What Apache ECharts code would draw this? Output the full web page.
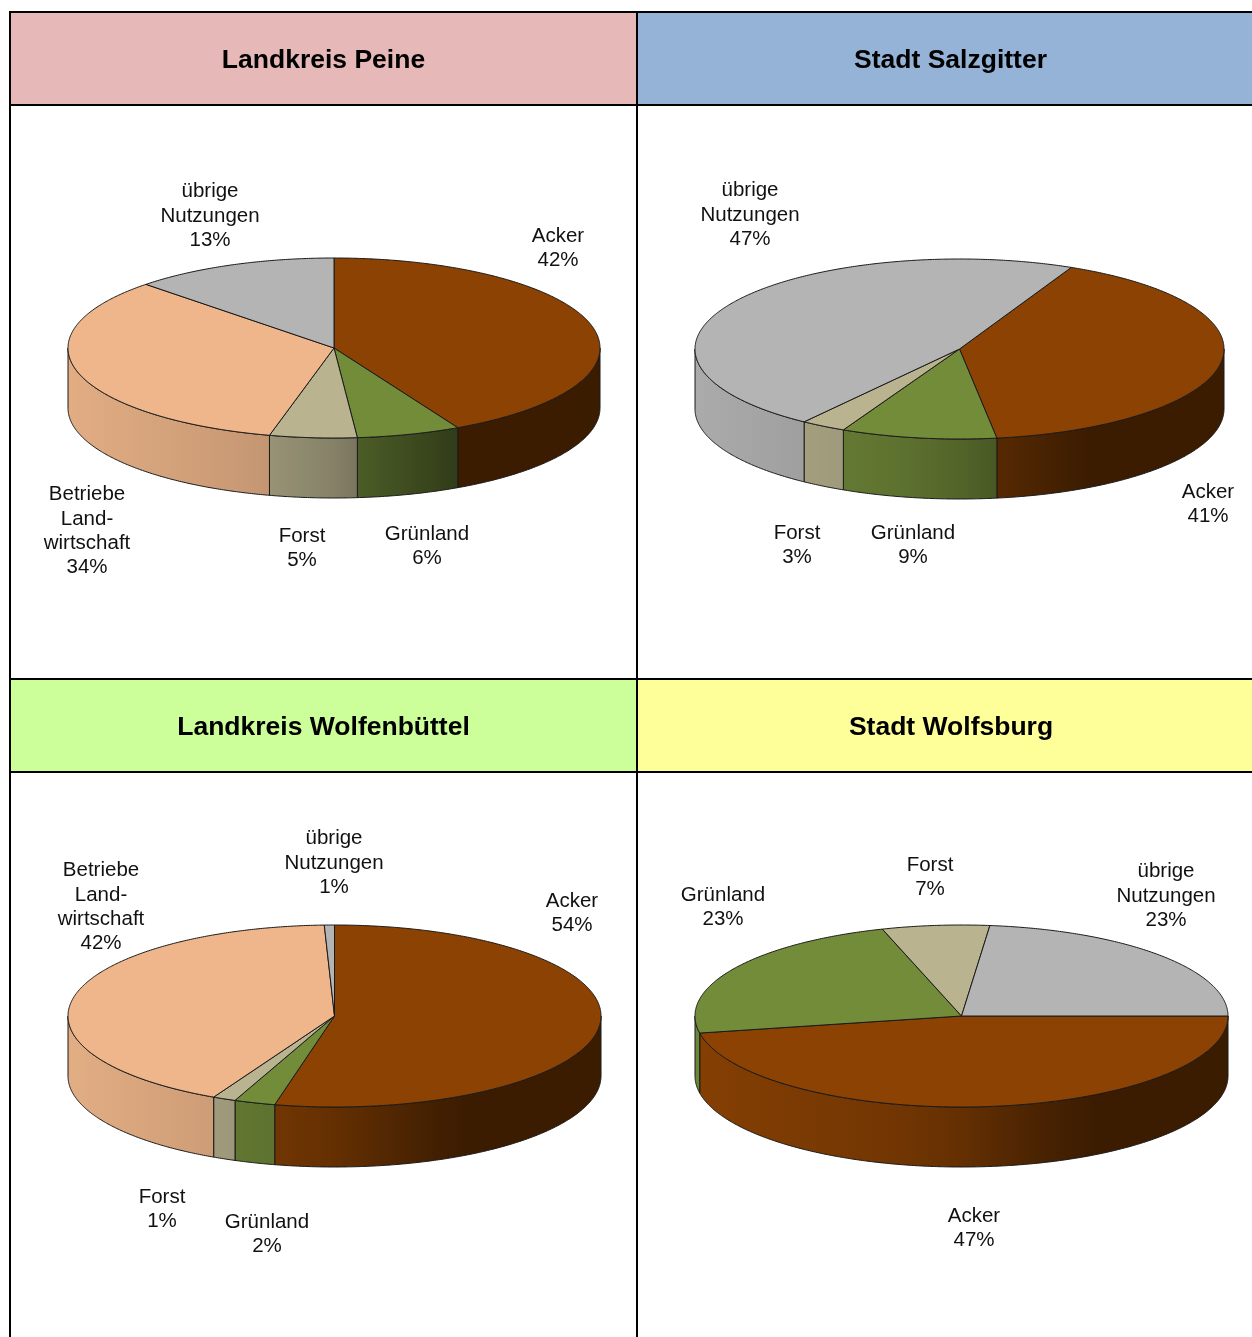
<!DOCTYPE html>
<html>
<head>
<meta charset="utf-8">
<style>html,body{margin:0;padding:0;background:#fff}#c{width:1252px;height:1337px}</style>
<script src="https://cdn.jsdelivr.net/npm/echarts@6/dist/echarts.min.js"></script>
</head>
<body>
<div id="c"></div>
<script>
// ---------- data ----------
const regions = ['Landkreis Peine', 'Stadt Salzgitter', 'Landkreis Wolfenbüttel', 'Stadt Wolfsburg'];
const peineNames = ['Acker', 'Grünland', 'Forst', 'Betriebe\nLand-\nwirtschaft', 'übrige\nNutzungen'];
const peineValues = [42.3, 6.3, 5.3, 33.6, 12.5];
const salzgitterNames = ['Acker', 'Grünland', 'Forst', 'übrige\nNutzungen'];
const salzgitterValues = [40.8, 9.49, 2.76, 46.95];
const wolfenbuettelNames = ['Acker', 'Grünland', 'Forst', 'Betriebe\nLand-\nwirtschaft', 'übrige\nNutzungen'];
const wolfenbuettelValues = [53.6, 2.49, 1.4, 41.9, 0.61];
const wolfsburgNames = ['Acker', 'Grünland', 'Forst', 'übrige\nNutzungen'];
const wolfsburgValues = [47, 23.2, 6.5, 23.3];

// ---------- styles and layout ----------
const sliceColors = {
  'Acker': [139, 66, 3],
  'Grünland': [115, 140, 58],
  'Forst': [185, 179, 143],
  'Betriebe\nLand-\nwirtschaft': [238, 182, 138],
  'übrige\nNutzungen': [180, 180, 180]
};
const headerColors = ['#E6B8B7', '#95B3D7', '#CCFF99', '#FFFF99'];
const pieLayouts = [
  {cx: 334, cy: 348, rx: 266, ry: 90, depth: 60, start: 0,
   labels: [[558, 248.5], [427, 546.5], [302, 548.5], [87, 531], [210, 216]]},
  {cx: 959.5, cy: 349, rx: 264.5, ry: 90, depth: 60, start: 25,
   labels: [[1208, 504.5], [913, 545.5], [797, 545.5], [750, 215]]},
  {cx: 334.5, cy: 1016, rx: 266.5, ry: 91, depth: 60, start: 0,
   labels: [[572, 913.5], [267, 1234.5], [162, 1209.5], [101, 907], [334, 863]]},
  {cx: 961.5, cy: 1016, rx: 266.5, ry: 91, depth: 60, start: 90,
   labels: [[974, 1228.5], [723, 907.5], [930, 877.5], [1166, 896]]}
];
const shadeStops = [[-1, .95], [-.44, .86], [-.24, .82], [0, .72], [.09, .66], [.46, .43], [1, .42]];
const FONT = '"Liberation Sans", Arial, sans-serif';
const LINE = '#1a1a1a';

function shade(t) {
  for (let i = 1; i < shadeStops.length; i++) {
    if (t <= shadeStops[i][0]) {
      const a = shadeStops[i - 1], b = shadeStops[i];
      return a[1] + (b[1] - a[1]) * (t - a[0]) / (b[0] - a[0]);
    }
  }
  return shadeStops[shadeStops.length - 1][1];
}
function rim(p, deg) {
  const r = deg * Math.PI / 180;
  return [p.cx + p.rx * Math.sin(r), p.cy - p.ry * Math.cos(r)];
}
function wallShape(p, a0, a1) {
  // part of the slice's rim on the front half (90..270 degrees, repeating every 360)
  const out = [];
  for (const off of [0, 360]) {
    const s = Math.max(a0, 90 + off), e = Math.min(a1, 270 + off);
    if (e > s) out.push([s, e]);
  }
  return out;
}
function wallElement(p, rgb, s, e) {
  const top = [], bottom = [];
  const n = Math.max(2, Math.ceil((e - s) * 2));
  for (let i = 0; i <= n; i++) {
    const pt = rim(p, s + (e - s) * i / n);
    top.push(pt);
    bottom.unshift([pt[0], pt[1] + p.depth]);
  }
  const x0 = top[0][0], x1 = top[n][0];
  const stops = [];
  for (let i = 0; i <= 12; i++) {
    const x = x0 + (x1 - x0) * i / 12;
    const f = shade((x - p.cx) / p.rx);
    stops.push({offset: i / 12, color: `rgb(${rgb.map(c => Math.round(c * f)).join(',')})`});
  }
  return {
    type: 'polygon',
    shape: {points: top.concat(bottom)},
    style: {
      fill: new echarts.graphic.LinearGradient(x0, 0, x1, 0, stops, true),
      stroke: LINE, lineWidth: 1
    }
  };
}
function makeRender(values, names, p) {
  const total = values.reduce((a, b) => a + b, 0);
  return function (params, api) {
    const i = params.dataIndex;
    const v = api.value(0);
    let before = 0;
    for (let k = 0; k < i; k++) before += values[k];
    const a0 = p.start + before / total * 360;
    const a1 = a0 + v / total * 360;
    const rgb = sliceColors[names[i]];
    const children = [];
    wallShape(p, a0, a1).forEach(r => children.push(wallElement(p, rgb, r[0], r[1])));
    const pts = [[p.cx, p.cy]];
    const n = Math.max(2, Math.ceil((a1 - a0) * 2));
    for (let k = 0; k <= n; k++) pts.push(rim(p, a0 + (a1 - a0) * k / n));
    children.push({
      type: 'polygon',
      shape: {points: pts},
      style: {fill: `rgb(${rgb.join(',')})`, stroke: LINE, lineWidth: 1, lineJoin: 'round'}
    });
    children.push({
      type: 'text',
      z2: 10,
      style: {
        x: p.labels[i][0], y: p.labels[i][1],
        text: names[i] + '\n' + Math.round(v) + '%',
        align: 'center', verticalAlign: 'middle',
        font: '20.5px ' + FONT, lineHeight: 24.3, fill: '#111'
      }
    });
    return {type: 'group', children};
  };
}
function pieSeries(name, values, names, p) {
  return {
    type: 'custom',
    name,
    coordinateSystem: 'none',
    silent: true,
    data: values.map((v, i) => ({name: names[i], value: v})),
    renderItem: makeRender(values, names, p)
  };
}

const cols = [[11, 637], [638, 1252]];
const rows = [[13, 104], [680, 771]];
const band = (x0, x1, y0, y1, fill) => ({type: 'rect', z: -2, shape: {x: x0, y: y0, width: x1 - x0, height: y1 - y0}, style: {fill}});
const line = (x1, y1, x2, y2) => ({type: 'line', z: -1, shape: {x1, y1, x2, y2}, style: {stroke: '#000', lineWidth: 2}});
const titleAt = (text, x, y) => ({
  text, left: x, top: y, textAlign: 'center', padding: 0,
  textStyle: {fontFamily: FONT, fontWeight: 'bold', fontSize: 26.5, color: '#000'}
});

const chart = echarts.init(document.getElementById('c'), null, {renderer: 'canvas'});
chart.setOption({
  backgroundColor: '#fff',
  animation: false,
  title: [
    titleAt(regions[0], 323.5, 47),
    titleAt(regions[1], 950.5, 47),
    titleAt(regions[2], 323.5, 714),
    titleAt(regions[3], 951, 714)
  ],
  graphic: {elements: [
    band(cols[0][0], cols[0][1], rows[0][0], rows[0][1], headerColors[0]),
    band(cols[1][0], cols[1][1], rows[0][0], rows[0][1], headerColors[1]),
    band(cols[0][0], cols[0][1], rows[1][0], rows[1][1], headerColors[2]),
    band(cols[1][0], cols[1][1], rows[1][0], rows[1][1], headerColors[3]),
    line(10, 12, 1252, 12), line(10, 105, 1252, 105),
    line(10, 679, 1252, 679), line(10, 772, 1252, 772),
    line(10, 11, 10, 1337), line(637, 11, 637, 1337)
  ]},
  series: [
    pieSeries(regions[0], peineValues, peineNames, pieLayouts[0]),
    pieSeries(regions[1], salzgitterValues, salzgitterNames, pieLayouts[1]),
    pieSeries(regions[2], wolfenbuettelValues, wolfenbuettelNames, pieLayouts[2]),
    pieSeries(regions[3], wolfsburgValues, wolfsburgNames, pieLayouts[3])
  ]
});
</script>
</body>
</html>
